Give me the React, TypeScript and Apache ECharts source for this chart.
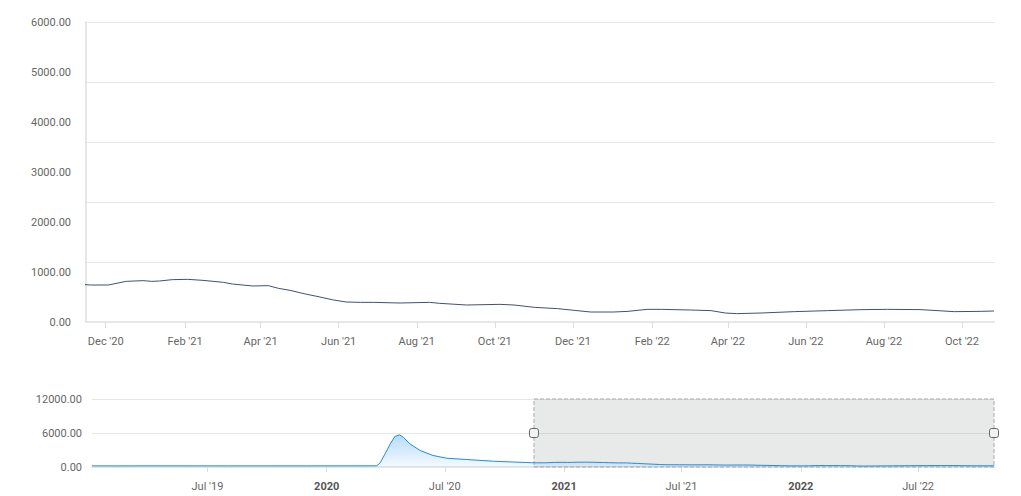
import React, { useEffect, useRef } from "react";
import * as echarts from "echarts";

// ---- data ----
const DATES: string[] = [
  "2019-01-04", "2019-02-15", "2019-04-05", "2019-06-01", "2019-08-01", "2019-10-01",
  "2019-12-01", "2020-02-01", "2020-03-18", "2020-03-23", "2020-03-31", "2020-04-08",
  "2020-04-15", "2020-04-22", "2020-04-28", "2020-05-08", "2020-05-24", "2020-06-13",
  "2020-07-04", "2020-08-04", "2020-09-14", "2020-10-10", "2020-11-04", "2020-11-12",
  "2020-11-19", "2020-12-03", "2020-12-17", "2020-12-30", "2021-01-06", "2021-01-12",
  "2021-01-22", "2021-02-03", "2021-02-15", "2021-03-03", "2021-03-10", "2021-03-26",
  "2021-04-07", "2021-04-15", "2021-04-24", "2021-05-06", "2021-05-15", "2021-05-28",
  "2021-06-07", "2021-06-18", "2021-06-28", "2021-07-19", "2021-08-11", "2021-08-19",
  "2021-09-09", "2021-10-05", "2021-10-16", "2021-11-01", "2021-11-19", "2021-12-02",
  "2021-12-15", "2022-01-02", "2022-01-13", "2022-01-28", "2022-02-08", "2022-03-03",
  "2022-03-19", "2022-03-30", "2022-04-08", "2022-04-27", "2022-05-23", "2022-06-18",
  "2022-07-14", "2022-08-04", "2022-08-30", "2022-09-25", "2022-10-16", "2022-10-26",
];
const VALUES: number[] = [
  200, 195, 205, 200, 195, 200,
  200, 205, 210, 670, 2330, 4090,
  5380, 5680, 5260, 4090, 2910, 2030,
  1550, 1320, 1020, 900, 790, 754,
  740, 740, 813, 827, 813, 820,
  847, 853, 833, 793, 760, 720,
  727, 673, 633, 560, 513, 440,
  400, 393, 393, 380, 393, 373,
  340, 353, 340, 293, 267, 233,
  200, 200, 213, 253, 253, 240,
  227, 180, 167, 180, 207, 227,
  247, 253, 247, 207, 213, 220,
];
const MAIN_FIRST_DATE = "2020-11-12";
const WINDOW_START = "2020-11-15T14:00:00Z";
const WINDOW_END = "2022-10-26";
const NAV_START = "2019-01-04";
const MAIN_TICKS: string[] = [
  "2020-12-01", "2021-02-01", "2021-04-01", "2021-06-01", "2021-08-01", "2021-10-01",
  "2021-12-01", "2022-02-01", "2022-04-01", "2022-06-01", "2022-08-01", "2022-10-01",
];
const NAV_TICKS: string[] = [
  "2019-07-01", "2020-01-01", "2020-07-01", "2021-01-01", "2021-07-01", "2022-01-01", "2022-07-01",
];
const MAIN_Y_LABELS: number[] = [0, 1000, 2000, 3000, 4000, 5000, 6000];
const MONTHS = ["Jan", "Feb", "Mar", "Apr", "May", "Jun", "Jul", "Aug", "Sep", "Oct", "Nov", "Dec"];

const t = (s: string) => new Date(s).getTime();

export default function App() {
  const ref = useRef<HTMLDivElement>(null);
  useEffect(() => {
    if (!ref.current) return;
    const chart = echarts.init(ref.current, undefined, { renderer: "svg" });
    const FONT = "Roboto";
    const LABEL = "#666666";
    const GRID = "#e6e6e6";
    const all = DATES.map((d, i) => [t(d), VALUES[i]]);
    const main = all.filter((p) => (p[0] as number) >= t(MAIN_FIRST_DATE));
    const fmtMonth = (v: number) => {
      const d = new Date(v);
      return `${MONTHS[d.getUTCMonth()]} '${String(d.getUTCFullYear()).slice(2)}`;
    };
    const fmtNav = (v: number) => {
      const d = new Date(v);
      if (d.getUTCMonth() === 0) return `{b|${d.getUTCFullYear()}}`;
      return fmtMonth(v);
    };
    chart.setOption({
      animation: false,
      grid: [
        { left: 86, right: 27, top: 22, height: 300, containLabel: false, outerBoundsMode: "none" },
        { left: 92, right: 27, top: 399, height: 68, containLabel: false, outerBoundsMode: "none" },
      ],
      xAxis: [
        {
          type: "value",
          gridIndex: 0,
          min: t(WINDOW_START),
          max: t(WINDOW_END),
          axisLine: { show: true, lineStyle: { color: GRID, width: 2 } },
          axisTick: {
            show: true,
            length: 6,
            lineStyle: { color: "#dddddd" },
            customValues: MAIN_TICKS.map(t),
          },
          axisLabel: {
            customValues: MAIN_TICKS.map(t),
            formatter: (v: number) => fmtMonth(v),
            color: LABEL,
            fontSize: 11,
            fontFamily: FONT,
            margin: 14,
          },
          splitLine: { show: false },
        },
        {
          type: "value",
          gridIndex: 1,
          min: t(NAV_START),
          max: t(WINDOW_END),
          axisLine: { show: true, lineStyle: { color: GRID, width: 2 } },
          axisTick: {
            show: true,
            length: 5,
            lineStyle: { color: "#dddddd" },
            customValues: NAV_TICKS.map(t),
          },
          axisLabel: {
            customValues: NAV_TICKS.map(t),
            formatter: (v: number) => fmtNav(v),
            color: LABEL,
            fontSize: 11,
            fontFamily: FONT,
            margin: 14,
            rich: {
              b: { fontWeight: "bold", fontSize: 11, color: "#555555", fontFamily: FONT },
            },
          },
          splitLine: { show: false },
        },
      ],
      yAxis: [
        {
          type: "value",
          gridIndex: 0,
          position: "left",
          min: 0,
          max: 6000,
          interval: 1200,
          axisLine: { show: true, lineStyle: { color: GRID, width: 2 } },
          axisTick: { show: false },
          axisLabel: { show: false },
          splitLine: { show: true, lineStyle: { color: GRID, width: 1 } },
        },
        {
          type: "value",
          gridIndex: 0,
          position: "left",
          offset: 0,
          min: 0,
          max: 6000,
          interval: 1000,
          axisLine: { show: false },
          axisTick: { show: false },
          splitLine: { show: false },
          axisLabel: {
            customValues: MAIN_Y_LABELS,
            formatter: (v: number) => v.toFixed(2),
            color: LABEL,
            fontSize: 11,
            fontFamily: FONT,
            margin: 15,
            padding: [0, 0, 3, 0],
          },
        },
        {
          type: "value",
          gridIndex: 1,
          position: "left",
          min: 0,
          max: 12000,
          interval: 6000,
          axisLine: { show: false },
          axisTick: { show: false },
          splitLine: { show: true, lineStyle: { color: GRID, width: 1 } },
          axisLabel: {
            formatter: (v: number) => v.toFixed(2),
            color: LABEL,
            fontSize: 11,
            fontFamily: FONT,
            margin: 10,
            padding: [0, 0, 4, 0],
          },
        },
      ],
      series: [
        {
          type: "line",
          xAxisIndex: 0,
          yAxisIndex: 0,
          data: main,
          showSymbol: false,
          clip: false,
          lineStyle: { color: "#3f5273", width: 1 },
          itemStyle: { color: "#3f5273" },
        },
        {
          type: "line",
          xAxisIndex: 1,
          yAxisIndex: 2,
          data: all,
          showSymbol: false,
          lineStyle: { color: "#1a8cf0", width: 1 },
          itemStyle: { color: "#1a8cf0" },
          areaStyle: {
            color: new echarts.graphic.LinearGradient(0, 0, 0, 1, [
              { offset: 0, color: "rgba(26,140,240,0.45)" },
              { offset: 1, color: "rgba(26,140,240,0.06)" },
            ]),
          },
          markArea: {
            silent: true,
            itemStyle: {
              color: "rgba(160,170,165,0.25)",
              borderColor: "#aaaaaa",
              borderWidth: 1,
              borderType: "dashed",
            },
            data: [[{ xAxis: t(WINDOW_START) }, { xAxis: t(WINDOW_END) }]],
          },
          markPoint: {
            silent: true,
            symbol: "roundRect",
            symbolSize: [9, 9],
            itemStyle: { color: "#f2f2f2", borderColor: "#666666", borderWidth: 1 },
            label: { show: false },
            data: [
              { coord: [t(WINDOW_START), 6000] },
              { coord: [t(WINDOW_END), 6000] },
            ],
          },
        },
      ],
    });
    return () => chart.dispose();
  }, []);
  return <div ref={ref} style={{ width: 1021, height: 496, position: "absolute", left: 0, top: 0 }} />;
}
